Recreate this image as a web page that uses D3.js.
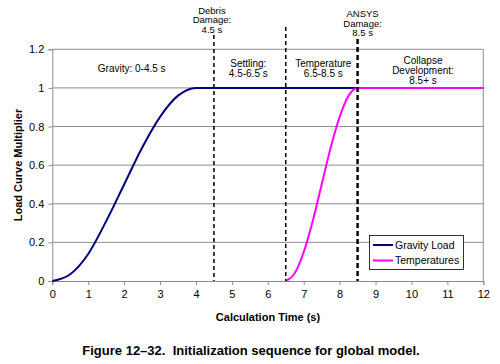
<!DOCTYPE html>
<html><head><meta charset="utf-8">
<script src="https://cdn.jsdelivr.net/npm/d3@7/dist/d3.min.js"></script>
<style>
body{margin:0;background:#fff;}
text{font-family:"Liberation Sans",Arial,sans-serif;}
</style></head>
<body><svg id="c" width="500" height="364"></svg>
<script>
const gravityTime = [0, 0.5, 1, 1.5, 2, 2.5, 3, 3.5, 4, 12];
const gravityLoad = [0, 0.035, 0.14, 0.31, 0.50, 0.69, 0.85, 0.96, 1, 1];
const tempTime = [6.5, 6.75, 7, 7.25, 7.5, 7.75, 8, 8.25, 8.5, 12];
const tempLoad = [0, 0.04, 0.15, 0.31, 0.5, 0.69, 0.85, 0.96, 1, 1];
const xTicks = [0,1,2,3,4,5,6,7,8,9,10,11,12];
const yTicks = [0,0.2,0.4,0.6,0.8,1,1.2];
const yTickLabels = ["0","0.2","0.4","0.6","0.8","1","1.2"];
const markerTimes = [4.5, 6.5, 8.5];
const markerLabels = [["Debris","Damage:","4.5 s"], null, ["ANSYS","Damage:","8.5 s"]];
const phaseLabels = [["Gravity: 0-4.5 s"], ["Settling:","4.5-6.5 s"], ["Temperature","6.5-8.5 s"], ["Collapse","Development:","8.5+ s"]];
const seriesNames = ["Gravity Load", "Temperatures"];
const seriesColors = ["#000080", "#ff00ff"];

const svg = d3.select("#c");
const L=52.3, R=483.3, T=49.3, B=281;
const x = d3.scaleLinear().domain([0,12]).range([L,R]);
const y = d3.scaleLinear().domain([0,1.2]).range([B,T]);

// grid
svg.append("g").selectAll("line").data(yTicks.filter(d=>d>0)).join("line")
  .attr("x1",L).attr("x2",R).attr("y1",d=>y(d)).attr("y2",d=>y(d))
  .attr("stroke","#8c8c8c").attr("stroke-width",1);
// frame right
svg.append("line").attr("x1",R).attr("x2",R).attr("y1",T).attr("y2",B).attr("stroke","#8c8c8c");

// axes
const xa = svg.append("g").attr("transform",`translate(0,${B})`)
  .call(d3.axisBottom(x).tickValues(xTicks).tickFormat(d3.format("d")).tickSize(4).tickPadding(5));
const ya = svg.append("g").attr("transform",`translate(${L},0)`)
  .call(d3.axisLeft(y).tickValues(yTicks).tickFormat((d,i)=>yTickLabels[i]).tickSize(4).tickPadding(4));
[xa,ya].forEach(a=>{
  a.select(".domain").attr("stroke","#8c8c8c");
  a.selectAll(".tick line").attr("stroke","#8c8c8c");
  a.selectAll(".tick text").attr("font-size",11).attr("fill","#000").style("font-family","Liberation Sans, Arial, sans-serif");
});

// series
const line = d3.line().x(d=>x(d[0])).y(d=>y(d[1])).curve(d3.curveMonotoneX);
const gData = gravityTime.map((t,i)=>[t,gravityLoad[i]]);
const tData = tempTime.map((t,i)=>[t,tempLoad[i]]);
svg.append("path").attr("d",line(gData)).attr("fill","none").attr("stroke",seriesColors[0]).attr("stroke-width",2);
svg.append("path").attr("d",line(tData)).attr("fill","none").attr("stroke",seriesColors[1]).attr("stroke-width",2);

// marker dashed lines
const markerTop = [35, 27, 39];
markerTimes.forEach((t,i)=>{
  svg.append("line").attr("x1",x(t)).attr("x2",x(t)).attr("y1",markerTop[i]).attr("y2",B)
    .attr("stroke","#000").attr("stroke-width", i===2?2.5:1.5).attr("stroke-dasharray", i===2?"5,3":"4,3");
});
// marker labels
const markerLabelY = [10.5, null, 14];
markerLabels.forEach((lab,i)=>{
  if(!lab) return;
  const cx = i===0 ? x(markerTimes[i])-2 : x(markerTimes[i])+5;
  lab.forEach((s,j)=>{
    svg.append("text").attr("x",cx).attr("y",markerLabelY[i]+j*9.5).attr("dy","0.35em")
      .attr("text-anchor","middle").attr("font-size",9.5).text(s);
  });
});
// phase labels
const phaseY = [68, 63, 63, 60];
phaseLabels.forEach((lab,i)=>{
  const cx = [131.7, 248.3, 323.3, 423][i];
  lab.forEach((s,j)=>{
    svg.append("text").attr("x",cx).attr("y",phaseY[i]+j*10).attr("dy","0.35em")
      .attr("text-anchor","middle").attr("font-size",10).text(s);
  });
});

// legend
const lg = svg.append("g");
lg.append("rect").attr("x",369.5).attr("y",235.5).attr("width",94).attr("height",34)
  .attr("fill","#fff").attr("stroke","#000").attr("stroke-width",0.8);
seriesNames.forEach((n,i)=>{
  const yy = 245 + i*15.5;
  lg.append("line").attr("x1",373).attr("x2",393).attr("y1",yy).attr("y2",yy)
    .attr("stroke",seriesColors[i]).attr("stroke-width",2);
  lg.append("text").attr("x",395).attr("y",yy).attr("dy","0.35em").attr("font-size",10.5).text(n);
});

// axis titles
svg.append("text").attr("x",268).attr("y",317).attr("dy","0.35em").attr("text-anchor","middle")
  .attr("font-size",11).attr("font-weight","bold").text("Calculation Time (s)");
svg.append("text").attr("transform","translate(18,165) rotate(-90)").attr("dy","0.35em").attr("text-anchor","middle")
  .attr("font-size",11).attr("font-weight","bold").text("Load Curve Multiplier");
// caption
svg.append("text").attr("x",251).attr("y",350).attr("dy","0.35em").attr("text-anchor","middle")
  .attr("font-size",13).attr("font-weight","bold").attr("xml:space","preserve").style("white-space","pre")
  .text("Figure 12\u201332.  Initialization sequence for global model.");
</script></body></html>
